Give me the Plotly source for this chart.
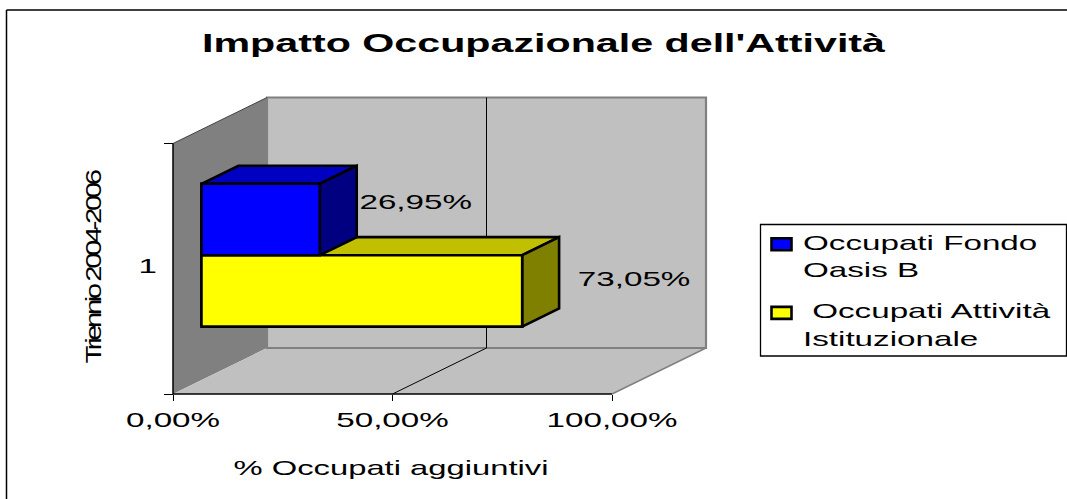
import plotly.graph_objects as go

# ---- data ----
SERIES_NAMES = ["Occupati Fondo<br>Oasis B", "\u00a0Occupati Attività<br>Istituzionale"]
SERIES_VALUES = [26.95, 73.05]
DATA_LABELS = ["26,95%", "73,05%"]
X_TICK_VALUES = [0, 50, 100]
X_TICK_LABELS = ["0,00%", "50,00%", "100,00%"]
CATEGORY_LABEL = "1"
TITLE = "Impatto Occupazionale dell'Attività"
X_TITLE = "% Occupati aggiuntivi"
Y_TITLE = "Triennio 2004-2006"

# ---- style ----
W, H = 1067, 499
ORIGIN_X, ORIGIN_Y = 173.0, 394.0
PX_PER_VALUE = 4.39
PX_PER_U = 250.5
DEPTH_X = 94 / PX_PER_VALUE
DEPTH_Y = 46 / PX_PER_U
D0, D1 = 0.303, 0.696           # bar depth extent
BAR_H = 0.285
BAR_BOTTOMS = [0.4985, 0.2135]
FACE = ["#0000FF", "#FFFF00"]
TOP = ["#0000C0", "#C0C000"]
SIDE = ["#000080", "#808000"]
LABEL_GAP = [59 / PX_PER_VALUE, 75 / PX_PER_VALUE]
LABEL_U = [0.758, 0.451]
FONT = "Liberation Sans"
TXT = "#000000"
STRETCH = 1.58
EDGE = 2.6


def P(v, u, d):
    return v + d * DEPTH_X, u + d * DEPTH_Y


def poly(points):
    return [p[0] for p in points], [p[1] for p in points]


def path(points):
    return "M" + "L".join(f"{x},{y}" for x, y in points) + "Z"


fig = go.Figure()

# Front faces as real bars (these also provide the legend)
for i, (name, val) in enumerate(zip(SERIES_NAMES, SERIES_VALUES)):
    base, _ = P(0, 0, D0)
    _, ub = P(0, BAR_BOTTOMS[i], D0)
    fig.add_trace(go.Bar(
        orientation="h", x=[val], base=[base], y=[ub + BAR_H / 2], width=[BAR_H],
        name=name, legendgroup=str(i), hoverinfo="skip",
        marker=dict(color=FACE[i], line=dict(color="#000000", width=EDGE)),
    ))

# Depth faces, yellow box first so the blue box sits on top of it
for i in [1, 0]:
    v = SERIES_VALUES[i]
    b = BAR_BOTTOMS[i]
    t = b + BAR_H
    front = [P(0, b, D0), P(v, b, D0), P(v, t, D0), P(0, t, D0), P(0, b, D0)]
    top = [P(0, t, D0), P(v, t, D0), P(v, t, D1), P(0, t, D1), P(0, t, D0)]
    side = [P(v, b, D0), P(v, t, D0), P(v, t, D1), P(v, b, D1), P(v, b, D0)]
    for pts, col in ((top, TOP[i]), (side, SIDE[i]), (front, FACE[i])):
        xs, ys = poly(pts)
        fig.add_trace(go.Scatter(
            x=xs, y=ys, mode="lines", fill="toself", fillcolor=col,
            line=dict(color="#000000", width=EDGE), showlegend=False, hoverinfo="skip",
        ))

# Data labels
lx = [P(v, 0, D1)[0] + g for v, g in zip(SERIES_VALUES, LABEL_GAP)]
fig.add_trace(go.Scatter(
    x=lx, y=LABEL_U, mode="text", text=DATA_LABELS, textposition="middle center",
    textfont=dict(family=FONT, size=21, color=TXT), showlegend=False, hoverinfo="skip",
))

GRAY = "#808080"
shapes = [
    # left wall
    dict(type="path", path=path([P(0, 0, 0), P(0, 1, 0), P(0, 1, 1), P(0, 0, 1)]),
         fillcolor="#808080", line=dict(width=0), layer="below"),
    # floor
    dict(type="path", path=path([P(0, 0, 0), P(100, 0, 0), P(100, 0, 1), P(0, 0, 1)]),
         fillcolor="#C0C0C0", line=dict(width=0), layer="below"),
    # back wall
    dict(type="path", path=path([P(0, 0, 1), P(100, 0, 1), P(100, 1, 1), P(0, 1, 1)]),
         fillcolor="#C0C0C0", line=dict(color=GRAY, width=2.2), layer="below"),
]
for a, b, col, w in [
    (P(100, 0, 0), P(100, 0, 1), GRAY, 1.5),
    (P(0, 1, 0), P(0, 1, 1), "#404040", 1),
    (P(50, 0, 0), P(50, 0, 1), "#000000", 1),
    (P(50, 0, 1), P(50, 1, 1), "#000000", 1),
    (P(0, 0, 0), P(100, 0, 0), "#000000", 1.5),
    (P(0, 0, 0), P(0, 1, 0), "#000000", 1.5),
]:
    shapes.append(dict(type="line", x0=a[0], y0=a[1], x1=b[0], y1=b[1],
                       line=dict(color=col, width=w), layer="below"))

# outer frame: only the left and top edges fall inside the picture
for x0, y0, x1, y1 in [(6.5, 10, 1067, 10), (6.5, 10, 6.5, 499)]:
    shapes.append(dict(type="line", xref="paper", yref="paper",
                       x0=x0 / W, x1=x1 / W, y0=1 - y0 / H, y1=1 - y1 / H,
                       line=dict(color="#000000", width=1.5), layer="below"))
# legend frame
shapes.append(dict(type="rect", xref="paper", yref="paper",
                   x0=760.5 / W, x1=1066.5 / W, y0=1 - 356 / H, y1=1 - 224.5 / H,
                   line=dict(color="#000000", width=1.3), fillcolor="#FFFFFF", layer="below"))

fig.update_layout(
    width=W, height=H, autosize=False,
    margin=dict(l=0, r=0, t=0, b=0),
    paper_bgcolor="#FFFFFF", plot_bgcolor="rgba(0,0,0,0)",
    barmode="overlay", shapes=shapes,
    font=dict(family=FONT, size=21, color=TXT),
    title=dict(text=f"<b>{TITLE}</b>", x=543.5 / W, xanchor="center",
               y=1 - 43 / H, yanchor="middle", font=dict(family=FONT, size=26, color=TXT)),
    xaxis=dict(
        domain=[0, 1], range=[-ORIGIN_X / PX_PER_VALUE, (W - ORIGIN_X) / PX_PER_VALUE],
        anchor="free", position=1 - ORIGIN_Y / H,
        showline=False, showgrid=False, zeroline=False,
        tickmode="array", tickvals=X_TICK_VALUES, ticktext=X_TICK_LABELS,
        ticks="outside", ticklen=6, tickwidth=1, tickcolor="#000000",
        tickfont=dict(family=FONT, size=21, color=TXT), ticklabelstandoff=1,
    ),
    yaxis=dict(
        domain=[0, 1], range=[(ORIGIN_Y - H) / PX_PER_U, ORIGIN_Y / PX_PER_U],
        anchor="free", position=ORIGIN_X / W,
        showline=False, showgrid=False, zeroline=False,
        tickmode="array", tickvals=[0.512], ticktext=[CATEGORY_LABEL], ticks="",
        minor=dict(tickmode="array", tickvals=[0, 1], ticks="outside", ticklen=9,
                   tickwidth=1, tickcolor="#000000", showgrid=False),
        tickfont=dict(family=FONT, size=21, color=TXT), ticklabelstandoff=16,
    ),
    legend=dict(
        x=760 / W, xanchor="left", y=1 - 221.5 / H, yanchor="top",
        bgcolor="rgba(0,0,0,0)", borderwidth=0,
        font=dict(family=FONT, size=21, color=TXT),
        itemwidth=33,
        traceorder="grouped", tracegroupgap=11, itemclick=False, itemdoubleclick=False,
    ),
    annotations=[
        dict(text=X_TITLE, xref="paper", yref="paper", x=390.5 / W, y=1 - 467 / H,
             xanchor="center", yanchor="middle",
             showarrow=False, font=dict(family=FONT, size=21, color=TXT)),
        dict(text=Y_TITLE, xref="paper", yref="paper", x=93 / W, y=1 - 268 / H,
             xanchor="center", yanchor="middle",
             textangle=-90, showarrow=False, font=dict(family=FONT, size=22, color=TXT)),
    ],
)

POST = """
document.documentElement.style.margin = '0';
document.body.style.margin = '0';
document.body.style.overflow = 'hidden';
var k = %s;
var gd = document.getElementById('{plot_id}');
function fit(e, w) {
  e.setAttribute('textLength', w);
  e.setAttribute('lengthAdjust', 'spacingAndGlyphs');
}
gd.querySelectorAll('.main-svg text').forEach(function (t) {
  var s = t.textContent;
  if (s.indexOf('Triennio') === 0) {
    t.style.letterSpacing = '-2.6px';
    fit(t, 191);
    return;
  }
  if (s.indexOf('Impatto') === 0) { fit(t, 683); return; }
  if (s.indexOf('%% Occupati') === 0) { fit(t, 315); return; }
  var lines = t.querySelectorAll('tspan.line');
  var els = lines.length ? lines : [t];
  els.forEach(function (e) { fit(e, e.getComputedTextLength() * k); });
});
gd.querySelectorAll('.legendpoints path').forEach(function (p) {
  p.setAttribute('d', 'M10,-5H-10V-17H10Z');
});
gd.querySelectorAll('.legend .scrollbox, .legend [clip-path]').forEach(function (e) {
  e.removeAttribute('clip-path');
});
""" % STRETCH

fig.write_html("out.html", post_script=POST, config=dict(displayModeBar=False))
